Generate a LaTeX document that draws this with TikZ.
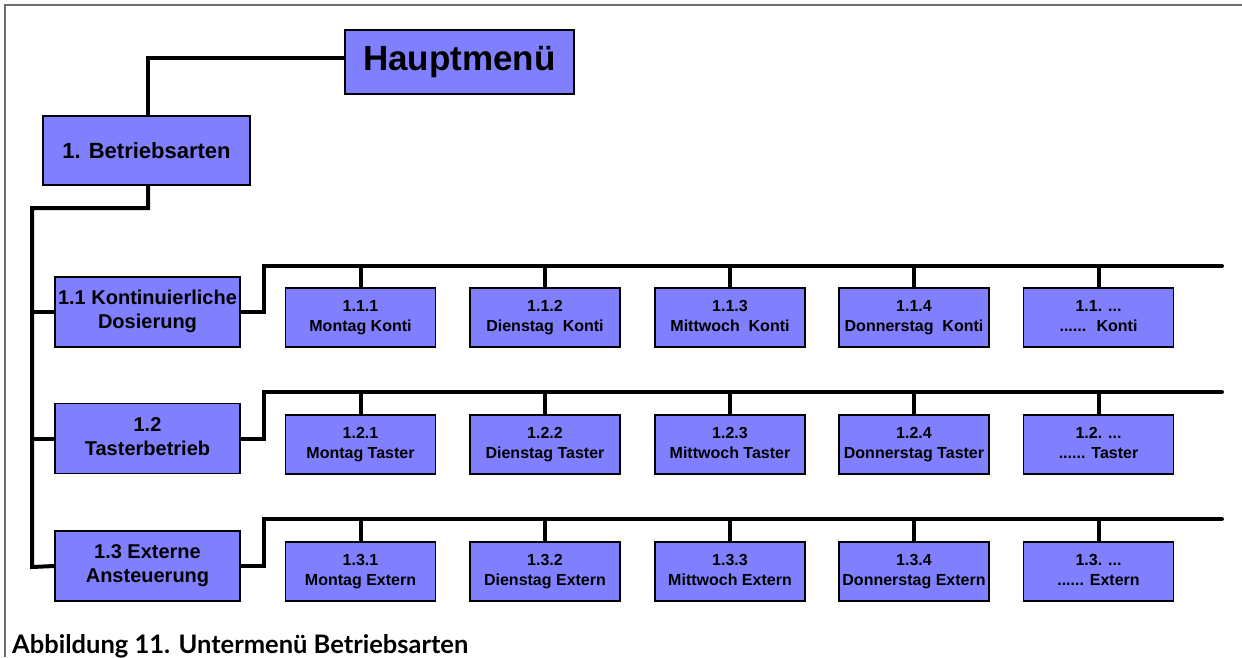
\documentclass[tikz,border=0pt]{standalone}
\usepackage{fontspec}
\setmainfont{Liberation Sans}
\newfontfamily\capfont{Lato}
\definecolor{boxfill}{RGB}{128,128,255}
\definecolor{framegray}{RGB}{110,110,110}
\newcommand{\twolines}[2]{#1\strut\\#2\strut}
\begin{document}
\begin{tikzpicture}[x=1pt,y=-1pt,
  menubox/.style={draw=black, line width=1.5pt, fill=boxfill, inner sep=0pt, align=center, font=\bfseries},
  topbox/.style={menubox, minimum width=229pt, minimum height=64pt, font=\fontsize{35}{40}\selectfont\bfseries},
  lvlone/.style={menubox, minimum width=207pt, minimum height=69pt, font=\fontsize{22}{26}\selectfont\bfseries},
  lvltwo/.style={menubox, minimum width=185pt, minimum height=70pt, font=\fontsize{20}{24}\selectfont\bfseries},
  lvlthree/.style={menubox, minimum width=150pt, minimum height=59pt, font=\fontsize{16}{20}\selectfont\bfseries},
  wire/.style={draw=black, line width=4pt},
  buswire/.style={wire, line cap=round},
  framerule/.style={draw=framegray, line width=2pt}
]
\useasboundingbox (0,0) rectangle (1242,657);
\fill[white] (0,0) rectangle (1242,657);
\draw[framerule] (5,657) -- (5,5) -- (1242,5);

\coordinate (trunkTop) at (32,208);
\coordinate (trunkBot) at (32,567);
\coordinate (busA) at (1222,266);
\coordinate (busB) at (1222,392);
\coordinate (busC) at (1222,519);

\node[topbox] (haupt) at (459.5,62) {Hauptmenü};
\node[lvlone] (betr) at (146.5,150.5) {1. Betriebsarten};

\node[lvltwo] (m1) at (147.5,312) {\twolines{1.1 Kontinuierliche}{Dosierung}};
\node[lvltwo] (m2) at (147.5,438.5) {\twolines{1.2}{Tasterbetrieb}};
\node[lvltwo] (m3) at (147.5,566) {\twolines{1.3 Externe}{Ansteuerung}};

\node[lvlthree] (c11) at (360.5,317.5) {\twolines{1.1.1}{Montag Konti}};
\node[lvlthree] (c12) at (545,317.5) {\twolines{1.1.2}{Dienstag~ Konti}};
\node[lvlthree] (c13) at (730,317.5) {\twolines{1.1.3}{Mittwoch~ Konti}};
\node[lvlthree] (c14) at (914,317.5) {\twolines{1.1.4}{Donnerstag~ Konti}};
\node[lvlthree] (c15) at (1098.5,317.5) {\twolines{1.1. ...}{......~ Konti}};

\node[lvlthree] (c21) at (360.5,444.5) {\twolines{1.2.1}{Montag Taster}};
\node[lvlthree] (c22) at (545,444.5) {\twolines{1.2.2}{Dienstag Taster}};
\node[lvlthree] (c23) at (730,444.5) {\twolines{1.2.3}{Mittwoch Taster}};
\node[lvlthree] (c24) at (914,444.5) {\twolines{1.2.4}{Donnerstag Taster}};
\node[lvlthree] (c25) at (1098.5,444.5) {\twolines{1.2. ...}{...... Taster}};

\node[lvlthree] (c31) at (360.5,571.5) {\twolines{1.3.1}{Montag Extern}};
\node[lvlthree] (c32) at (545,571.5) {\twolines{1.3.2}{Dienstag Extern}};
\node[lvlthree] (c33) at (730,571.5) {\twolines{1.3.3}{Mittwoch Extern}};
\node[lvlthree] (c34) at (914,571.5) {\twolines{1.3.4}{Donnerstag Extern}};
\node[lvlthree] (c35) at (1098.5,571.5) {\twolines{1.3. ...}{...... Extern}};

\draw[wire] ([yshift=4pt]haupt.west) -| ([xshift=1.5pt]betr.north);
\draw[wire] ([xshift=1.5pt]betr.south) |- (trunkTop) -- (trunkBot) -- (m3.west);
\draw[wire] (m1.west) -- (m1.west -| trunkTop);
\draw[wire] (m2.west) -- (m2.west -| trunkTop);

\draw[buswire] (m1.east) -- ++(23,0) |- (busA);
\draw[buswire] (m2.east) -- ++(23,0) |- (busB);
\draw[buswire] (m3.east) -- ++(23,0) |- (busC);

\foreach \c in {c11,c12,c13,c14,c15}{\draw[wire] (\c.north) -- (\c.north |- busA);}
\foreach \c in {c21,c22,c23,c24,c25}{\draw[wire] (\c.north) -- (\c.north |- busB);}
\foreach \c in {c31,c32,c33,c34,c35}{\draw[wire] (\c.north) -- (\c.north |- busC);}

\node[anchor=base west, inner sep=0pt, font=\capfont\bfseries\fontsize{25.5}{28}\selectfont] (caption) at (12,653) {Abbildung 11. Untermenü Betriebsarten};
\end{tikzpicture}
\end{document}
